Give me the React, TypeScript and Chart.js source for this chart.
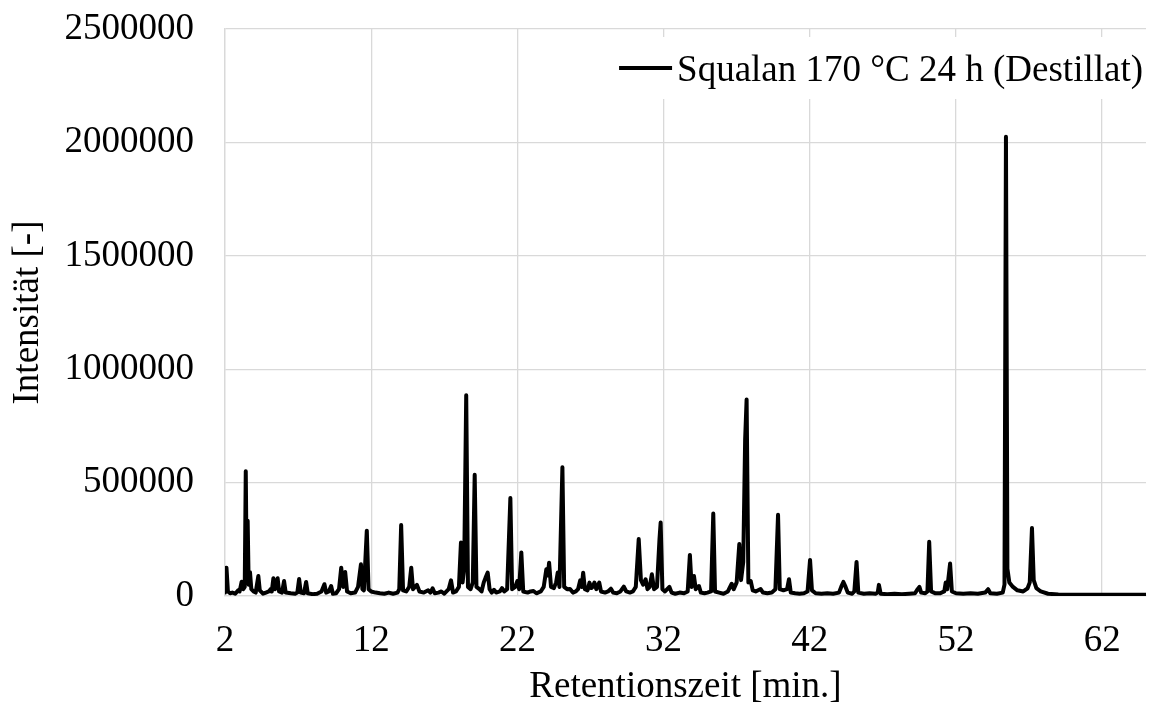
import React, { useEffect, useRef } from "react";
import { Chart, registerables } from "chart.js";

Chart.register(...registerables);

const seriesLabel = "Squalan 170 °C 24 h (Destillat)";
const xTitle = "Retentionszeit [min.]";
const yTitle = "Intensität [-]";

const xTickValues = [2, 12, 22, 32, 42, 52, 62];
const yTickValues = [0, 500000, 1000000, 1500000, 2000000, 2500000];

// Retention time [min.] of every recorded point of the trace
const retentionTimes = [
  2.0, 2.1, 2.2, 2.35, 2.5, 2.7, 2.9, 3.0, 3.14, 3.25, 3.35, 3.42, 3.49, 3.55, 3.62, 3.71, 3.8, 3.95,
  4.1, 4.28, 4.38, 4.6, 4.8, 5.0, 5.12, 5.2, 5.31, 5.42, 5.6, 5.7, 5.9, 6.04, 6.15, 6.5, 6.8, 6.95,
  7.07, 7.18, 7.4, 7.55, 7.66, 8.0, 8.3, 8.6, 8.8, 8.92, 9.1, 9.26, 9.38, 9.6, 9.8, 9.95, 10.08,
  10.22, 10.35, 10.6, 10.9, 11.1, 11.3, 11.4, 11.5, 11.7, 11.82, 12.0, 12.3, 12.6, 12.9, 13.2, 13.5,
  13.8, 13.92, 14.05, 14.18, 14.4, 14.6, 14.74, 14.86, 15.0, 15.13, 15.3, 15.6, 15.9, 16.05, 16.2,
  16.35, 16.6, 16.8, 17.0, 17.3, 17.46, 17.6, 17.8, 18.0, 18.14, 18.25, 18.36, 18.5, 18.62, 18.8,
  18.95, 19.08, 19.2, 19.4, 19.55, 19.7, 19.82, 19.97, 20.1, 20.25, 20.4, 20.55, 20.8, 20.95, 21.1,
  21.3, 21.52, 21.64, 21.85, 22.0, 22.12, 22.27, 22.4, 22.7, 22.9, 23.1, 23.3, 23.6, 23.8, 23.98,
  24.08, 24.17, 24.3, 24.5, 24.65, 24.76, 24.88, 25.08, 25.2, 25.4, 25.6, 25.8, 26.0, 26.15, 26.3,
  26.4, 26.5, 26.62, 26.8, 26.93, 27.05, 27.15, 27.27, 27.4, 27.6, 27.72, 28.0, 28.2, 28.4, 28.55,
  28.8, 29.05, 29.28, 29.45, 29.7, 29.9, 30.1, 30.3, 30.45, 30.6, 30.77, 30.9, 31.05, 31.2, 31.35,
  31.55, 31.72, 31.8, 31.92, 32.1, 32.4, 32.55, 32.8, 33.1, 33.4, 33.65, 33.8, 33.92, 34.08, 34.2,
  34.42, 34.55, 34.8, 35.0, 35.25, 35.4, 35.52, 35.8, 36.1, 36.4, 36.55, 36.66, 36.8, 37.0, 37.18,
  37.3, 37.45, 37.58, 37.68, 37.8, 37.96, 38.1, 38.3, 38.64, 38.8, 39.1, 39.4, 39.65, 39.83, 39.95,
  40.2, 40.45, 40.58, 40.7, 41.0, 41.3, 41.6, 41.85, 42.02, 42.15, 42.4, 42.8, 43.2, 43.6, 44.0,
  44.15, 44.3, 44.45, 44.6, 44.9, 45.05, 45.2, 45.32, 45.7, 46.1, 46.5, 46.65, 46.73, 46.85, 47.3,
  47.8, 48.3, 48.8, 49.2, 49.38, 49.5, 49.62, 49.9, 50.05, 50.17, 50.3, 50.6, 50.9, 51.2, 51.3, 51.4,
  51.6, 51.72, 52.0, 52.5, 53.0, 53.5, 54.0, 54.2, 54.35, 54.8, 55.2, 55.32, 55.42, 55.52, 55.65, 55.9,
  56.2, 56.6, 56.9, 57.05, 57.2, 57.32, 57.5, 57.8, 58.3, 59.0, 60.0, 61.0, 62.0, 63.0, 64.0, 65.0,
];

// Intensity [-] at each retention time above
const intensities = [
  15000, 125000, 20000, 12000, 15000, 10000, 25000, 20000, 63000, 30000, 40000, 550000, 60000, 332000, 50000, 105000, 30000, 20000,
  15000, 88000, 25000, 10000, 15000, 20000, 30000, 20000, 78000, 30000, 78000, 20000, 15000, 66000, 15000, 12000, 10000, 15000,
  75000, 15000, 12000, 62000, 12000, 8000, 10000, 20000, 52000, 15000, 20000, 44000, 10000, 12000, 30000, 125000, 40000,
  106000, 20000, 12000, 15000, 40000, 140000, 30000, 25000, 288000, 30000, 20000, 15000, 12000, 10000, 15000, 10000,
  15000, 30000, 313000, 25000, 20000, 40000, 125000, 30000, 40000, 49000, 20000, 15000, 25000, 15000, 34000,
  12000, 15000, 20000, 10000, 30000, 69000, 15000, 20000, 40000, 236000, 60000, 120000, 885000, 40000, 30000,
  60000, 535000, 40000, 30000, 20000, 60000, 80000, 103000, 30000, 15000, 27000, 15000, 20000, 35000, 20000,
  30000, 432000, 30000, 40000, 66000, 30000, 192000, 20000, 15000, 20000, 22000, 12000, 20000, 40000, 118000,
  90000, 147000, 40000, 35000, 60000, 103000, 40000, 568000, 40000, 30000, 31000, 15000, 20000, 30000, 69000,
  40000, 103000, 30000, 25000, 59000, 35000, 40000, 59000, 30000, 59000, 20000, 15000, 20000, 32000, 15000,
  12000, 20000, 41000, 20000, 15000, 20000, 40000, 251000, 70000, 50000, 74000, 30000, 40000, 96000, 30000,
  40000, 250000, 324000, 30000, 20000, 40000, 15000, 10000, 15000, 12000, 20000, 181000, 40000, 88000, 30000,
  44000, 15000, 12000, 15000, 20000, 364000, 20000, 15000, 10000, 20000, 40000, 54000, 30000, 60000, 229000,
  70000, 150000, 690000, 866000, 60000, 66000, 25000, 20000, 31000, 15000, 12000, 15000, 30000, 358000, 30000,
  25000, 30000, 74000, 15000, 12000, 10000, 12000, 20000, 159000, 25000, 12000, 10000, 12000, 10000, 15000,
  40000, 62000, 40000, 15000, 10000, 20000, 150000, 15000, 10000, 12000, 10000, 15000, 49000, 10000, 8000,
  10000, 8000, 10000, 12000, 30000, 40000, 15000, 12000, 20000, 239000, 20000, 12000, 12000, 20000, 59000, 30000,
  143000, 20000, 12000, 10000, 12000, 10000, 15000, 30000, 12000, 10000, 15000, 50000, 2025000, 120000, 60000, 40000,
  25000, 20000, 34000, 60000, 300000, 70000, 35000, 20000, 10000, 7000, 5000, 6000, 5000, 5000, 6000, 5000,
];

const FONT = "'Liberation Serif', 'Times New Roman', serif";

const legendPlugin = {
  id: "insideLegend",
  afterDatasetsDraw(chart: any) {
    const { ctx, chartArea } = chart;
    const ds = chart.data.datasets[0];
    ctx.save();
    ctx.font = `37px ${FONT}`;
    const text = ds.label as string;
    const w = ctx.measureText(text).width;
    const right = chartArea.right - 3;
    const textX = right - w;
    const baseY = chartArea.top + 52;
    ctx.fillStyle = "#ffffff";
    ctx.fillRect(textX - 62, chartArea.top + 8, w + 66, 62);
    ctx.strokeStyle = ds.borderColor;
    ctx.lineWidth = ds.borderWidth;
    ctx.beginPath();
    ctx.moveTo(textX - 58, baseY - 13);
    ctx.lineTo(textX - 5, baseY - 13);
    ctx.stroke();
    ctx.fillStyle = "#000000";
    ctx.textBaseline = "alphabetic";
    ctx.textAlign = "left";
    ctx.fillText(text, textX, baseY);
    ctx.restore();
  },
};

export default function App() {
  const canvasRef = useRef<HTMLCanvasElement | null>(null);

  useEffect(() => {
    const canvas = canvasRef.current;
    if (!canvas) return;
    const points = retentionTimes.map((t, i) => ({ x: t, y: intensities[i] }));
    const chart = new Chart(canvas, {
      type: "line",
      data: {
        datasets: [
          {
            label: seriesLabel,
            data: points,
            borderColor: "#000000",
            borderWidth: 4,
            pointRadius: 0,
            tension: 0,
            fill: false,
            borderJoinStyle: "round",
            borderCapStyle: "round",
          },
        ],
      },
      options: {
        animation: false,
        responsive: false,
        devicePixelRatio: 1,
        layout: { padding: { top: 29, right: 7, left: 0, bottom: 0 } },
        plugins: {
          legend: { display: false },
          tooltip: { enabled: false },
        },
        scales: {
          x: {
            type: "linear",
            min: 2,
            max: 65,
            afterBuildTicks: (scale: any) => {
              scale.ticks = xTickValues.map((v) => ({ value: v }));
            },
            afterFit: (scale: any) => {
              scale.height = 113;
              scale.paddingLeft = 0;
              scale.paddingRight = 0;
            },
            ticks: {
              font: { family: FONT, size: 37 },
              color: "#000000",
              padding: 23,
              maxRotation: 0,
              autoSkip: false,
              callback: (v: any) => String(v),
            },
            grid: { color: "#d9d9d9", lineWidth: 1.3, drawTicks: false },
            border: { display: true, color: "#d9d9d9", width: 1.3 },
            title: {
              display: true,
              text: xTitle,
              font: { family: FONT, size: 37 },
              color: "#000000",
              padding: { top: 0, bottom: 0 },
            },
          },
          y: {
            type: "linear",
            min: 0,
            max: 2500000,
            afterBuildTicks: (scale: any) => {
              scale.ticks = yTickValues.map((v) => ({ value: v }));
            },
            afterFit: (scale: any) => {
              scale.width = 225;
              scale.paddingTop = 0;
              scale.paddingBottom = 0;
            },
            ticks: {
              font: { family: FONT, size: 37 },
              color: "#000000",
              padding: 31,
              autoSkip: false,
              callback: (v: any) => String(v),
            },
            grid: { color: "#d9d9d9", lineWidth: 1.3, drawTicks: false },
            border: { display: true, color: "#d9d9d9", width: 1.3 },
            title: {
              display: true,
              text: yTitle,
              font: { family: FONT, size: 37 },
              color: "#000000",
              padding: { top: 6, bottom: 0 },
            },
          },
        },
      },
      plugins: [legendPlugin],
    } as any);
    return () => chart.destroy();
  }, []);

  return (
    <div style={{ position: "fixed", left: 0, top: 0, width: 1153, height: 709, background: "#ffffff" }}>
      <canvas ref={canvasRef} width={1153} height={709} style={{ display: "block", width: 1153, height: 709 }} />
    </div>
  );
}
